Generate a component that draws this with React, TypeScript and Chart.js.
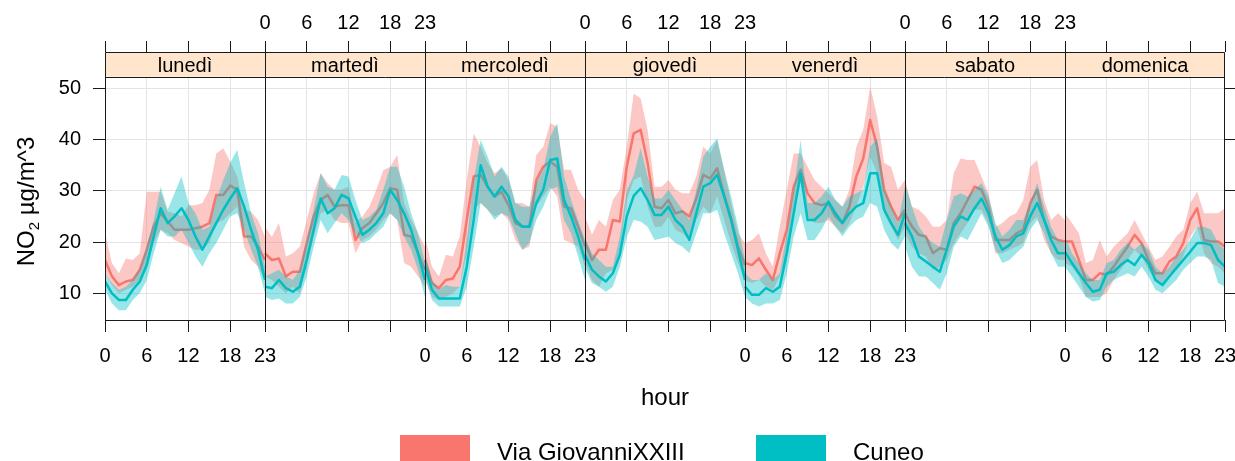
import React, { useEffect, useRef } from 'react';
import { Chart, registerables } from 'chart.js';

Chart.register(...registerables);

const FONT = '"Liberation Sans", Arial, Helvetica, sans-serif';

const days = ['lunedì', 'martedì', 'mercoledì', 'giovedì', 'venerdì', 'sabato', 'domenica'];
const hours = [0, 1, 2, 3, 4, 5, 6, 7, 8, 9, 10, 11, 12, 13, 14, 15, 16, 17, 18, 19, 20, 21, 22, 23];
const hourTicks = [0, 6, 12, 18, 23];
const yTicks = [10, 20, 30, 40, 50];
const seriesNames = ['Via GiovanniXXIII', 'Cuneo'];
const seriesColors = ['#F8766D', '#00BFC4'];
const bandColors = ['rgba(248,118,109,0.4)', 'rgba(0,191,196,0.4)'];
const bottomLabelDays = [0, 2, 4, 6];
const topLabelDays = [1, 3, 5];

const Y_MIN = 4.79;
const Y_MAX = 57.08;
const PANEL_TOP = 52.26;
const SPAN = 23;

// Via GiovanniXXIII — mean, lower, upper (one row per day, hours 0..23)
const viaMean = [
  [16.5, 13.3, 11.6, 12.3, 12.6, 14.6, 18.5, 23, 25.6, 24, 22.4, 22.4, 22.4, 22.7, 23, 23.7, 29.2, 29.2, 31, 30.2, 21.1, 21.1, 19.1, 16.5],
  [17.8, 16.5, 16.8, 13.3, 14.2, 14.2, 19.8, 25, 28.2, 29.2, 26.9, 27.2, 27.2, 20.4, 22.7, 23.7, 25.6, 27.6, 30.5, 30.2, 21.4, 21.1, 17.8, 14.6],
  [16.5, 12, 11, 12.6, 12.9, 15.2, 24.3, 32.8, 33.1, 30.8, 28.9, 29.8, 27.2, 23.7, 23, 23, 32.1, 34.7, 35.7, 34.7, 26.9, 26.6, 23, 19.1],
  [20, 16.5, 18.5, 18.5, 24.3, 24, 34.7, 41.2, 41.9, 35.4, 26.9, 26.6, 28.2, 25.6, 26, 25, 28.5, 33.1, 32.4, 34.4, 29.2, 24.6, 19.1, 15.5],
  [15.9, 15.5, 16.8, 14.6, 12.6, 17.8, 22.4, 30.8, 34.1, 29.5, 27.6, 27.2, 27.6, 25, 23.7, 26.9, 32.8, 36.3, 43.8, 38.6, 30.2, 26.9, 24.3, 26.3],
  [25.6, 23, 21.4, 21.1, 17.8, 18.8, 18.5, 23.7, 25.6, 28.2, 30.8, 30.2, 26.9, 20.4, 20.4, 20.4, 21.7, 22.4, 27.6, 30.2, 24.3, 21.1, 20.4, 20.1],
  [20.1, 20.1, 16.5, 12.6, 12.6, 13.9, 13.6, 15.2, 17.2, 19.1, 21.4, 19.8, 16.5, 13.9, 13.9, 16.2, 17.2, 19.8, 24.3, 26.6, 20.4, 20.1, 20.1, 19.1],
];
const viaLower = [
  [13.9, 11.6, 10, 10.7, 11.3, 12.6, 15.2, 19.8, 22.4, 21.7, 20.4, 19.8, 19.1, 18.5, 18.5, 19.8, 23.7, 24.3, 25.6, 26.9, 19.1, 16.5, 15.2, 12.6],
  [13.3, 12.6, 11.3, 10, 11.3, 10, 15.2, 21.1, 25.6, 26.3, 24.3, 23.7, 23.7, 17.8, 20.4, 21.1, 22.4, 24.3, 25.6, 24.3, 15.9, 15.2, 13.3, 11.3],
  [12.6, 9.3, 8.7, 9.3, 10, 11.3, 17.8, 26.3, 27.6, 26.3, 25, 25.6, 24.3, 20.4, 18.5, 19.1, 26.9, 28.9, 30.8, 28.9, 20.4, 19.8, 19.1, 15.2],
  [16, 12.6, 11.3, 13.9, 14.6, 17.8, 28.2, 32.1, 32.8, 26.9, 23, 23, 25, 22.4, 21.7, 20.4, 24.3, 26.9, 25.6, 28.9, 24.3, 19.8, 15.9, 12.6],
  [12.6, 12, 12.6, 11.3, 10.7, 13.3, 17.8, 25.6, 31.5, 25, 23.7, 23.7, 24.3, 23, 21.7, 23.7, 26.9, 30.8, 36.7, 33.4, 25.6, 23, 20.4, 23],
  [21.7, 19.1, 17.8, 17.2, 14.6, 15.2, 16.5, 19.8, 21.7, 23.7, 26.3, 26.3, 23.7, 17.8, 17.8, 18.5, 19.1, 19.8, 23.7, 25, 20.4, 17.8, 16.5, 16.5],
  [15.9, 15.2, 13.3, 9.3, 9.3, 9.3, 10, 12.6, 14.6, 16.5, 18.5, 17.2, 14.6, 12.6, 12, 13.9, 14.6, 17.2, 21.1, 23, 17.8, 15.9, 15.2, 13.9],
];
const viaUpper = [
  [21.7, 15.9, 13.9, 16.8, 16.5, 17.8, 29.8, 29.8, 29.8, 25.9, 25.6, 25, 27.2, 27.2, 27.6, 30.2, 37.3, 38.3, 35.7, 32.8, 26.3, 25.9, 24.3, 21.1],
  [23, 21, 23.7, 17.2, 17.8, 19.1, 24.3, 29.5, 33.4, 31.5, 30.2, 30.2, 30.8, 23.7, 25, 26.9, 30.2, 34, 34.7, 37, 27.6, 24.3, 21.7, 19.1],
  [21.1, 15.2, 13.3, 17.5, 17.2, 21.1, 32.1, 41.2, 38.6, 35.4, 33.4, 34.4, 32.1, 27.6, 27.6, 26.9, 37, 38.6, 43.2, 42.5, 34.1, 34.1, 30.2, 28.2],
  [25, 21.4, 24.3, 23, 28.2, 30.2, 38.6, 49, 48, 41.9, 30.8, 30.8, 32.1, 30.2, 29.5, 29.5, 32.8, 38.6, 37.3, 39.9, 34.1, 27.6, 21.7, 19.8],
  [19.8, 20.4, 21.7, 17.8, 15.2, 23, 30.2, 37.3, 37.3, 34.7, 32.1, 30.8, 29.5, 28.2, 26.9, 30.2, 38.6, 41.9, 50.3, 44.5, 35.4, 34.7, 30.2, 32.1],
  [32.1, 26.9, 26.3, 25, 23, 23, 24.3, 33.4, 36.3, 36, 36, 32.8, 29.5, 23, 23.7, 25, 25.6, 28.2, 34.7, 36, 28.2, 24.3, 25.6, 24.3],
  [25.6, 23.7, 21.7, 15.9, 16.5, 20.4, 17.2, 19.1, 20.4, 21.7, 24.3, 21.7, 19.1, 16.5, 17.2, 19.1, 21.1, 22.4, 27.6, 29.8, 25.6, 25.6, 25.6, 26.6],
];

// Cuneo — mean, lower, upper
const cuneoMean = [
  [12.3, 10, 8.7, 8.7, 10.7, 12.3, 15.5, 21.1, 26.6, 23.7, 25, 26.6, 24.3, 21.1, 18.5, 21.1, 23.7, 26.3, 28.5, 30.5, 26.9, 22.4, 18.5, 12.6],
  [11.3, 11, 12.6, 11, 10.3, 11.3, 16.5, 22.4, 28.5, 25.6, 26.6, 29.2, 28.5, 25, 21.4, 22.4, 23.7, 25.6, 30.2, 28.2, 25.6, 22.4, 17.8, 12.6],
  [15.2, 10.7, 9, 9, 9, 9, 15.2, 24.3, 35, 30.8, 28.9, 30.8, 28.9, 24.3, 23, 23, 27.6, 30.2, 36, 36.3, 28.2, 25, 21.1, 16.5],
  [17.5, 14.6, 13.3, 12.3, 13.9, 17.5, 25, 29, 30.5, 28.2, 25.3, 25.3, 26.9, 24.3, 23, 20.4, 25.6, 30.8, 31.5, 33.1, 28.9, 24.3, 18.5, 12.6],
  [11.3, 9.7, 9.7, 11, 10.3, 11.3, 17.8, 25.6, 33.4, 24.3, 24.3, 25.6, 27.9, 25.6, 23.7, 25.6, 26.9, 27.6, 33.4, 33.4, 26.3, 23.7, 21.4, 25.6],
  [23.7, 21.1, 17.2, 16.2, 15.2, 14.2, 18.5, 23, 25, 24.3, 26.6, 28.5, 25.6, 21.1, 18.5, 19.4, 21.1, 21.7, 25, 27.6, 24.3, 20.4, 17.8, 17.8],
  [18.1, 15.9, 13.9, 12, 10.3, 10.7, 13.9, 14.2, 15.5, 16.5, 15.5, 17.5, 15.9, 12.6, 11.6, 13.3, 14.9, 16.5, 18.1, 19.8, 19.8, 19.4, 16.5, 15.2],
];
const cuneoLower = [
  [10.7, 8, 6.7, 6.7, 8.7, 10, 12.6, 17.8, 22.4, 21.1, 21.1, 22.4, 19.8, 17.2, 15.2, 17.8, 19.8, 22.4, 25, 25.6, 22.4, 18.5, 15.2, 10],
  [9.3, 8.7, 9, 8, 8, 9.3, 13.3, 19.1, 24.3, 21.7, 23.7, 25.6, 24.3, 21.7, 19.8, 20.4, 21.7, 23, 25.6, 24.3, 21.1, 18.5, 14.6, 9.3],
  [13.3, 8.7, 7.4, 7.4, 7.4, 7.4, 11.3, 19.1, 27.6, 26.3, 24.3, 25.6, 25, 21.7, 18.5, 19.8, 24.3, 26.9, 30.2, 30.8, 24.3, 21.7, 17.2, 12.6],
  [15, 12, 11.3, 10.3, 11.3, 15.2, 21, 24.3, 24, 23, 20.4, 20.7, 21.1, 19.8, 19.1, 17.8, 21.7, 25.6, 25.6, 26.3, 21.7, 17.8, 13.9, 9.3],
  [9.3, 8, 7.4, 8, 8, 8.7, 13.9, 21.1, 25.6, 20.4, 20.4, 22.4, 25, 23, 21.1, 23, 24.3, 25, 27.6, 26.9, 22.4, 19.8, 18.5, 21.1],
  [19.1, 15.2, 13.3, 13.3, 12, 10.7, 13.9, 19.1, 21.1, 20.4, 23, 25.6, 23, 18.5, 15.9, 16.5, 17.8, 19.1, 22.4, 24.3, 21.7, 17.8, 15.2, 15.2],
  [15.2, 13.3, 11.3, 9.3, 8.4, 8.7, 11.3, 12.6, 13.3, 13.9, 13.3, 15.2, 13.3, 10.7, 10, 11.3, 12.6, 14.6, 15.9, 17.2, 17.2, 16.5, 12, 11.3],
];
const cuneoUpper = [
  [13.9, 12, 10.7, 11.3, 12.6, 14.6, 19.1, 24.3, 30.8, 26.3, 29.5, 32.8, 27.6, 25.6, 22.4, 23, 28.2, 32.1, 35.4, 38, 31.5, 25.6, 21.7, 15.2],
  [13.3, 13.9, 14.6, 13.3, 12.6, 14.6, 20.4, 26.3, 33.4, 30.8, 30.2, 33.1, 32.8, 28.2, 24.3, 25, 26.3, 30.2, 34.7, 34.7, 30.8, 25.6, 21.7, 15.9],
  [17.8, 12.6, 10.7, 11.6, 11.3, 11.3, 20.4, 32.1, 39.9, 36.7, 32.8, 34.7, 32.8, 27.6, 26.9, 26.9, 31.5, 34.1, 40.6, 43.2, 32.8, 28.2, 24.3, 20.4],
  [21, 17.8, 16.5, 15.2, 15.2, 21.1, 30, 33, 38.3, 32.8, 28.5, 28.5, 30.2, 28.2, 26.3, 24.3, 30.2, 36.7, 38.6, 40.2, 34.1, 28.9, 23, 16.5],
  [13.9, 12.6, 12.6, 13.9, 12.6, 13.9, 21.7, 30.2, 39.9, 27.6, 27.6, 28.9, 30.8, 28.2, 26.9, 28.9, 29.5, 30.2, 38.6, 40.2, 30.2, 26.9, 23.7, 30.8],
  [31.5, 26.9, 23, 21.1, 19.8, 19.1, 24.3, 28.9, 29.5, 28.9, 30.2, 31.5, 28.9, 23.7, 21.1, 22.4, 24.3, 24.3, 27.6, 31.5, 26.9, 23, 20.4, 19.8],
  [21.1, 17.8, 15.9, 13.9, 12.6, 12.6, 15.9, 16.5, 18.5, 19.8, 18.5, 19.8, 18.5, 15.2, 13.9, 15.2, 17.2, 18.5, 20.4, 23, 23, 22.4, 19.8, 18.5],
];

const seriesData = [
  { mean: viaMean, lower: viaLower, upper: viaUpper, bandOrder: 3, lineOrder: 2 },
  { mean: cuneoMean, lower: cuneoLower, upper: cuneoUpper, bandOrder: 1, lineOrder: 0 },
];

const X_MAX = days.length * SPAN;
const xTickValues: number[] = [];
days.forEach((_, d) => hourTicks.forEach((h) => {
  const v = d * SPAN + h;
  if (!xTickValues.includes(v)) xTickValues.push(v);
}));

function labelFor(v: number, labelled: number[]) {
  for (const d of labelled) {
    const h = v - d * SPAN;
    if (h >= 0 && h <= SPAN) return String(h);
  }
  return '';
}

const pts = (arr: number[], d: number) => hours.map((h, i) => ({ x: d * SPAN + h, y: arr[i] }));

function buildDatasets() {
  const ds: any[] = [];
  seriesData.forEach((s, si) => {
    days.forEach((_, d) => {
      ds.push({
        data: pts(s.lower[d], d), borderWidth: 0, borderColor: 'rgba(0,0,0,0)',
        pointRadius: 0, fill: false, order: s.bandOrder, tension: 0,
      });
      ds.push({
        data: pts(s.upper[d], d), borderWidth: 0, borderColor: 'rgba(0,0,0,0)',
        backgroundColor: bandColors[si], pointRadius: 0, fill: '-1', order: s.bandOrder, tension: 0,
      });
      ds.push({
        data: pts(s.mean[d], d), borderWidth: 2.5, borderColor: seriesColors[si],
        pointRadius: 0, fill: false, order: s.lineOrder, tension: 0,
        borderJoinStyle: 'round', borderCapStyle: 'butt',
      });
    });
  });
  return ds;
}

const latticePlugin = {
  id: 'lattice',
  beforeDatasetsDraw(chart: any) {
    const { ctx, chartArea } = chart;
    const xs = chart.scales.x;
    const ys = chart.scales.y;
    const sb = ys.getPixelForValue(PANEL_TOP);
    ctx.save();
    ctx.fillStyle = '#FFE5CC';
    ctx.fillRect(chartArea.left, chartArea.top, chartArea.right - chartArea.left, sb - chartArea.top);
    ctx.fillStyle = '#000';
    ctx.font = `20px ${FONT}`;
    ctx.textAlign = 'center';
    ctx.textBaseline = 'alphabetic';
    days.forEach((name, d) => {
      ctx.fillText(name, xs.getPixelForValue(d * SPAN + SPAN / 2), sb - 4.5);
    });
    ctx.restore();
  },
  afterDatasetsDraw(chart: any) {
    const { ctx, chartArea } = chart;
    const xs = chart.scales.x;
    const ys = chart.scales.y;
    const sb = Math.round(ys.getPixelForValue(PANEL_TOP)) + 0.5;
    const L = Math.round(chartArea.left) + 0.5;
    const R = Math.round(chartArea.right) - 0.5;
    const T = Math.round(chartArea.top) + 0.5;
    const B = Math.round(chartArea.bottom) + 0.5;
    ctx.save();
    ctx.strokeStyle = '#1a1a1a';
    ctx.lineWidth = 1;
    ctx.beginPath();
    ctx.rect(L, T, R - L, B - T);
    ctx.moveTo(L, sb);
    ctx.lineTo(R, sb);
    for (let d = 1; d < days.length; d++) {
      const px = Math.round(xs.getPixelForValue(d * SPAN)) + 0.5;
      ctx.moveTo(px, T);
      ctx.lineTo(px, B);
    }
    ctx.stroke();
    ctx.restore();
  },
  afterDraw(chart: any) {
    const { ctx } = chart;
    ctx.save();
    ctx.fillStyle = '#000';
    ctx.translate(33.5, 201.5);
    ctx.rotate(-Math.PI / 2);
    ctx.textBaseline = 'alphabetic';
    ctx.textAlign = 'left';
    const big = `24px ${FONT}`;
    const small = `15px ${FONT}`;
    ctx.font = big;
    const w1 = ctx.measureText('NO').width;
    const w3 = ctx.measureText(' µg/m^3').width;
    ctx.font = small;
    const w2 = ctx.measureText('2').width;
    const start = -(w1 + w2 + w3) / 2;
    ctx.font = big;
    ctx.fillText('NO', start, 0);
    ctx.font = small;
    ctx.fillText('2', start + w1, 5.5);
    ctx.font = big;
    ctx.fillText(' µg/m^3', start + w1 + w2, 0);
    ctx.restore();

    ctx.save();
    ctx.font = `24px ${FONT}`;
    ctx.textBaseline = 'alphabetic';
    ctx.textAlign = 'left';
    const boxes = [400, 756];
    const texts = [497, 853];
    seriesNames.forEach((name, i) => {
      ctx.fillStyle = seriesColors[i];
      ctx.fillRect(boxes[i], 435, 70, 30);
      ctx.fillStyle = '#000';
      ctx.fillText(name, texts[i], 459.5);
    });
    ctx.restore();
  },
};

const tickFont = { family: FONT, size: 20 };
const GRID = '#e4e4e4';

export default function App() {
  const ref = useRef<HTMLCanvasElement | null>(null);
  useEffect(() => {
    if (!ref.current) return;
    const setTicks = (vals: number[]) => (scale: any) => {
      scale.ticks = vals.map((v) => ({ value: v }));
    };
    const fitH = (h: number) => (s: any) => {
      s.height = h;
      s.paddingLeft = 0;
      s.paddingRight = 0;
    };
    const fitW = (w: number) => (s: any) => {
      s.width = w;
      s.paddingTop = 0;
      s.paddingBottom = 0;
    };
    const chart = new Chart(ref.current, {
      type: 'line',
      data: { datasets: buildDatasets() },
      plugins: [latticePlugin],
      options: {
        animation: false,
        responsive: false,
        devicePixelRatio: 1,
        layout: { padding: 0 },
        plugins: { legend: { display: false }, tooltip: { enabled: false } },
        elements: { line: { tension: 0 } },
        scales: {
          x: {
            type: 'linear', position: 'bottom', min: 0, max: X_MAX,
            afterBuildTicks: setTicks(xTickValues),
            afterFit: fitH(141),
            border: { display: false },
            grid: {
              drawOnChartArea: true, drawTicks: true, tickLength: 12, lineWidth: 1,
              color: (c: any) => (c.tick && c.tick.value % SPAN === 0 ? 'rgba(0,0,0,0)' : GRID),
              tickColor: '#1a1a1a',
            },
            ticks: {
              autoSkip: false, maxRotation: 0, padding: 12, color: '#000', font: tickFont,
              callback: (v: any) => labelFor(Number(v), bottomLabelDays),
            },
            title: {
              display: true, text: 'hour', color: '#000',
              font: { family: FONT, size: 24 }, padding: { top: 0, bottom: 48 },
            },
          },
          x2: {
            type: 'linear', position: 'top', min: 0, max: X_MAX,
            afterBuildTicks: setTicks(xTickValues),
            afterFit: fitH(52),
            border: { display: false },
            grid: { drawOnChartArea: false, drawTicks: true, tickLength: 11, tickColor: '#1a1a1a' },
            ticks: {
              autoSkip: false, maxRotation: 0, padding: 6, color: '#000', font: tickFont,
              callback: (v: any) => labelFor(Number(v), topLabelDays),
            },
          },
          y: {
            type: 'linear', position: 'left', min: Y_MIN, max: Y_MAX,
            afterBuildTicks: setTicks(yTicks),
            afterFit: fitW(105),
            border: { display: false },
            grid: { color: GRID, drawTicks: true, tickLength: 12, tickColor: '#1a1a1a', lineWidth: 1 },
            ticks: { padding: 12, color: '#000', font: tickFont, callback: (v: any) => String(v) },
          },
          y2: {
            type: 'linear', position: 'right', min: Y_MIN, max: Y_MAX,
            afterBuildTicks: setTicks(yTicks),
            afterFit: fitW(10),
            border: { display: false },
            grid: { drawOnChartArea: false, drawTicks: true, tickLength: 10, tickColor: '#1a1a1a' },
            ticks: { padding: 0, font: tickFont, callback: () => '' },
          },
        },
      } as any,
    });
    return () => chart.destroy();
  }, []);
  return (
    <div style={{ position: 'absolute', left: 0, top: 0, width: 1235, height: 461, background: '#fff' }}>
      <canvas ref={ref} width={1235} height={461} style={{ width: 1235, height: 461, display: 'block' }} />
    </div>
  );
}
